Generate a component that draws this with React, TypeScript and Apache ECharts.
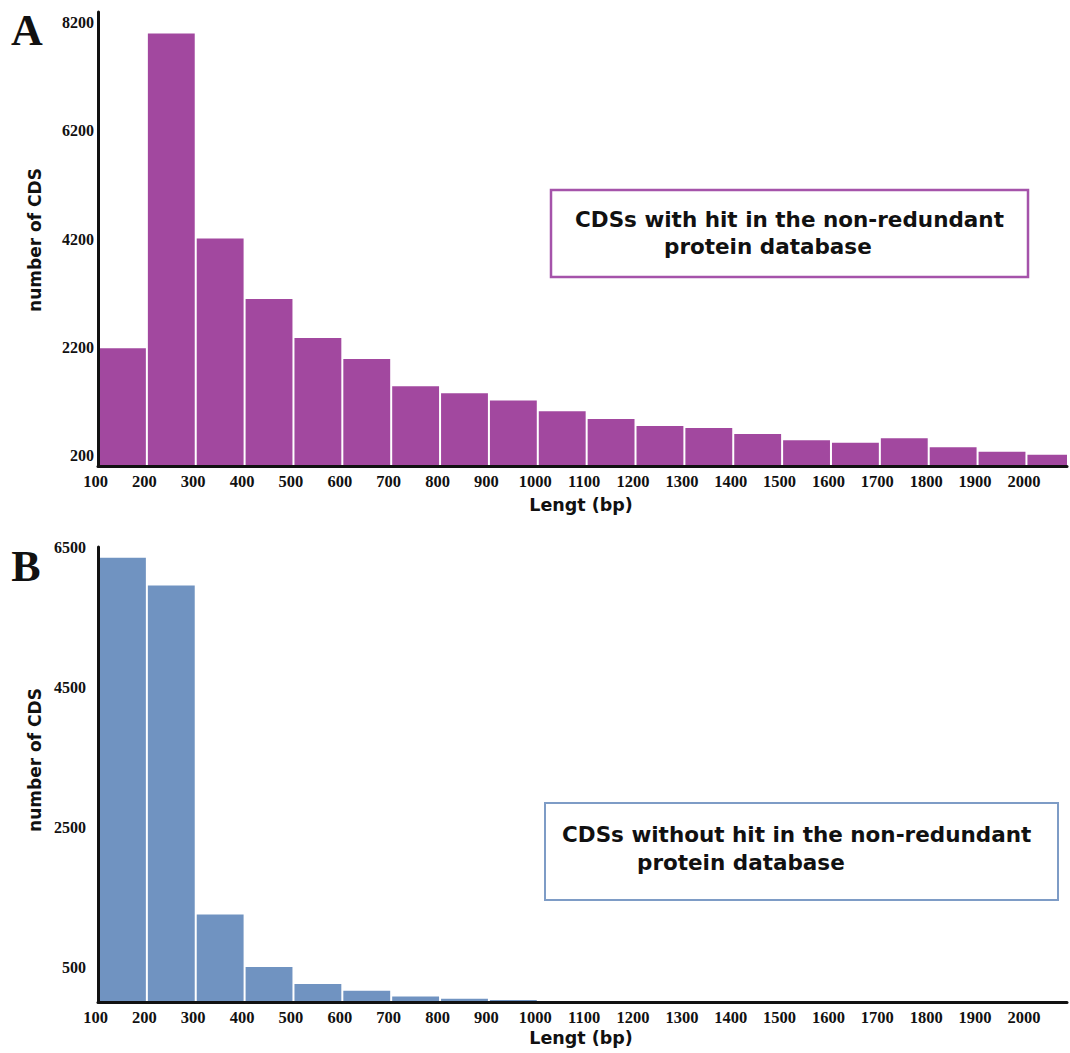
import React, { useEffect, useRef } from "react";
import * as echarts from "echarts";

// Bin starts (bp); each bin is 100 bp wide
const binStarts = [100, 200, 300, 400, 500, 600, 700, 800, 900, 1000, 1100, 1200, 1300, 1400, 1500, 1600, 1700, 1800, 1900, 2000];
const binWidth = 100;
// Panel A: CDSs with hit in the non-redundant protein database
const hitCounts = [2180, 8000, 4210, 3090, 2370, 1980, 1475, 1345, 1210, 1015, 870, 740, 705, 590, 475, 430, 515, 345, 265, 210];
// Panel B: CDSs without hit
const noHitCounts = [6345, 5950, 1250, 500, 258, 160, 80, 45, 30, 0, 0, 0, 0, 0, 0, 0, 0, 0, 0, 0];

const xLabelValues = [100, 200, 300, 400, 500, 600, 700, 800, 900, 1000, 1100, 1200, 1300, 1400, 1500, 1600, 1700, 1800, 1900, 2000];
const yLabelsA = [200, 2200, 4200, 6200, 8200];
const yLabelsB = [500, 2500, 4500, 6500];

const colorA = "#A2489F";
const colorB = "#7093C1";

const renderBar = (params: any, api: any) => {
  const start = api.value(0);
  const end = api.value(1);
  const v = api.value(2);
  const p0 = api.coord([start, 0]);
  const p1 = api.coord([end, v]);
  const cs = params.coordSys;
  const rect = echarts.graphic.clipRectByRect(
    { x: p0[0] + 1, y: p1[1], width: p1[0] - p0[0] - 2, height: p0[1] - p1[1] },
    { x: cs.x, y: cs.y, width: cs.width, height: cs.height }
  );
  if (!rect) return null;
  return { type: "rect", shape: rect, style: { fill: api.visual("color") } };
};

const serifLabel = {
  fontFamily: "Liberation Serif",
  fontWeight: "bold" as const,
  color: "#111",
};

const axisLineStyle = { show: true, onZero: false, lineStyle: { color: "#111", width: 3 } };

const makeX = (gridIndex: number) => ({
  type: "value",
  gridIndex,
  min: 100,
  max: 2083,
  interval: 100,
  z: 10,
  axisLine: axisLineStyle,
  axisTick: { show: false },
  splitLine: { show: false },
  axisLabel: {
    ...serifLabel,
    fontSize: 16.5,
    margin: 7,
    padding: [0, 5, 0, 0],
    formatter: (v: number) => (xLabelValues.includes(v) ? String(v) : ""),
  },
});

const makeY = (gridIndex: number, max: number, interval: number, labels: number[], margin: number) => ({
  type: "value",
  gridIndex,
  min: 0,
  max,
  interval,
  z: 10,
  axisLine: axisLineStyle,
  axisTick: { show: false },
  splitLine: { show: false },
  axisLabel: {
    ...serifLabel,
    fontSize: 16,
    margin,
    formatter: (v: number) => (labels.includes(v) ? String(v) : ""),
  },
});

const sansBold = "DejaVu Sans";

const App: React.FC = () => {
  const ref = useRef<HTMLDivElement>(null);
  useEffect(() => {
    if (!ref.current) return;
    const chart = echarts.init(ref.current, null, { renderer: "svg" });
    const option: any = {
      animation: false,
      backgroundColor: "#ffffff",
      grid: [
        { left: 98, top: 12, width: 972, height: 454 },
        { left: 98, top: 547, width: 972, height: 455 },
      ],
      xAxis: [makeX(0), makeX(1)],
      yAxis: [
        makeY(0, 8400, 200, yLabelsA, 4),
        makeY(1, 6500, 500, yLabelsB, 12),
      ],
      series: [
        {
          type: "custom",
          xAxisIndex: 0,
          yAxisIndex: 0,
          renderItem: renderBar,
          itemStyle: { color: colorA },
          encode: { x: [0, 1], y: 2 },
          data: binStarts.map((s, i) => [s, s + binWidth, hitCounts[i]]),
        },
        {
          type: "custom",
          xAxisIndex: 1,
          yAxisIndex: 1,
          renderItem: renderBar,
          itemStyle: { color: colorB },
          encode: { x: [0, 1], y: 2 },
          data: binStarts.map((s, i) => [s, s + binWidth, noHitCounts[i]]),
        },
      ],
      graphic: [
        { type: "text", x: 27, y: 30, style: { text: "A", font: "bold 44px 'Liberation Serif'", fill: "#111", align: "center", verticalAlign: "middle" } },
        { type: "text", x: 26, y: 566, style: { text: "B", font: "bold 44px 'Liberation Serif'", fill: "#111", align: "center", verticalAlign: "middle" } },
        { type: "text", x: 35, y: 240, rotation: Math.PI / 2, style: { text: "number of CDS", font: `bold 17px '${sansBold}'`, fill: "#111", align: "center", verticalAlign: "middle" } },
        { type: "text", x: 35, y: 760, rotation: Math.PI / 2, style: { text: "number of CDS", font: `bold 17px '${sansBold}'`, fill: "#111", align: "center", verticalAlign: "middle" } },
        { type: "text", x: 581, y: 505, style: { text: "Lengt (bp)", font: `bold 17.5px '${sansBold}'`, fill: "#111", align: "center", verticalAlign: "middle" } },
        { type: "text", x: 581, y: 1038, style: { text: "Lengt (bp)", font: `bold 17.5px '${sansBold}'`, fill: "#111", align: "center", verticalAlign: "middle" } },
        { type: "rect", shape: { x: 551, y: 190, width: 477, height: 87 }, style: { fill: "#ffffff", stroke: "#A553AA", lineWidth: 2.5 } },
        { type: "text", x: 575, y: 219, style: { text: "CDSs with hit in the non-redundant", font: `bold 21.5px '${sansBold}'`, fill: "#111", align: "left", verticalAlign: "middle" } },
        { type: "text", x: 664, y: 246, style: { text: "protein database", font: `bold 21.5px '${sansBold}'`, fill: "#111", align: "left", verticalAlign: "middle" } },
        { type: "rect", shape: { x: 545, y: 803, width: 513, height: 97 }, style: { fill: "#ffffff", stroke: "#7E9CC6", lineWidth: 2 } },
        { type: "text", x: 562, y: 834, style: { text: "CDSs without hit in the non-redundant", font: `bold 21.5px '${sansBold}'`, fill: "#111", align: "left", verticalAlign: "middle" } },
        { type: "text", x: 637, y: 862, style: { text: "protein database", font: `bold 21.5px '${sansBold}'`, fill: "#111", align: "left", verticalAlign: "middle" } },
      ],
    };
    chart.setOption(option);
    return () => chart.dispose();
  }, []);
  return <div ref={ref} style={{ position: "absolute", left: 0, top: 0, width: 1070, height: 1053 }} />;
};

export default App;
